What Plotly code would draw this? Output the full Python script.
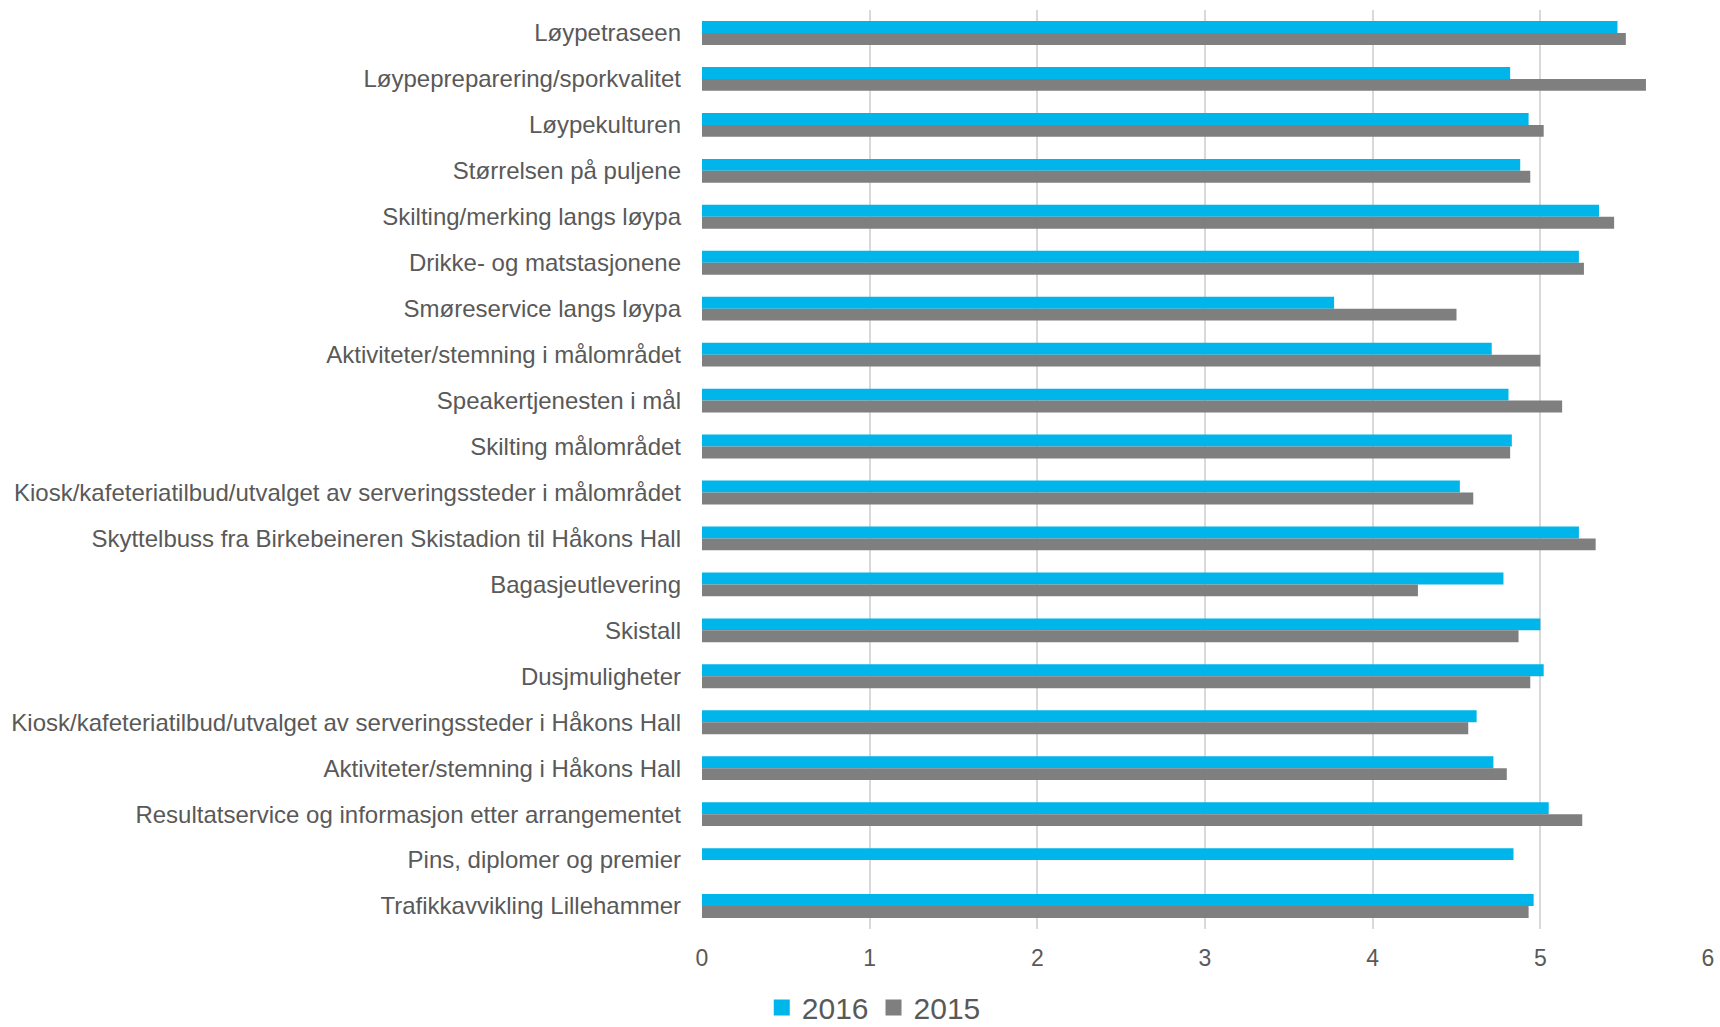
import plotly.graph_objects as go

categories = [
    "Løypetraseen",
    "Løypepreparering/sporkvalitet",
    "Løypekulturen",
    "Størrelsen på puljene",
    "Skilting/merking langs løypa",
    "Drikke- og matstasjonene",
    "Smøreservice langs løypa",
    "Aktiviteter/stemning i målområdet",
    "Speakertjenesten i mål",
    "Skilting målområdet",
    "Kiosk/kafeteriatilbud/utvalget av serveringssteder i målområdet",
    "Skyttelbuss fra Birkebeineren Skistadion til Håkons Hall",
    "Bagasjeutlevering",
    "Skistall",
    "Dusjmuligheter",
    "Kiosk/kafeteriatilbud/utvalget av serveringssteder i Håkons Hall",
    "Aktiviteter/stemning i Håkons Hall",
    "Resultatservice og informasjon etter arrangementet",
    "Pins, diplomer og premier",
    "Trafikkavvikling Lillehammer",
]

values_2016 = [5.46, 4.82, 4.93, 4.88, 5.35, 5.23, 3.77, 4.71, 4.81, 4.83,
               4.52, 5.23, 4.78, 5.00, 5.02, 4.62, 4.72, 5.05, 4.84, 4.96]
values_2015 = [5.51, 5.63, 5.02, 4.94, 5.44, 5.26, 4.50, 5.00, 5.13, 4.82,
               4.60, 5.33, 4.27, 4.87, 4.94, 4.57, 4.80, 5.25, None, 4.93]

series_names = ["2016", "2015"]
series_colors = ["#00B5E9", "#7F7F7F"]

x_ticks = [0, 1, 2, 3, 4, 5, 6]

TEXT = "#595959"
GRID = "#D9D9D9"
FONT = "Liberation Sans, Arial, sans-serif"

fig = go.Figure()
for name, vals, col in zip(series_names, [values_2016, values_2015], series_colors):
    fig.add_trace(go.Bar(
        y=categories, x=vals, name=name, orientation="h",
        marker=dict(color=col, line=dict(width=0)),
        showlegend=False, legendgroup=name,
    ))
# legend-only entries with larger square swatches
for name, col in zip(series_names, series_colors):
    fig.add_trace(go.Scatter(
        x=[None], y=[None], mode="markers", name=name, legendgroup=name,
        marker=dict(symbol="square", size=17, color=col),
        showlegend=True,
    ))

fig.update_layout(
    width=1720, height=1027,
    margin=dict(l=702, r=6, t=10, b=98, pad=0),
    paper_bgcolor="white", plot_bgcolor="white",
    barmode="group", bargap=0.48, bargroupgap=0,
    font=dict(family=FONT, color=TEXT, size=24),
    showlegend=True,
    legend=dict(
        orientation="h", xref="container", yref="container",
        x=0.508, xanchor="center", y=0.019, yanchor="middle",
        font=dict(size=30, color=TEXT), traceorder="normal",
        itemsizing="trace", itemwidth=30, bgcolor="rgba(0,0,0,0)",
    ),
    xaxis=dict(
        range=[0, 6], tickvals=x_ticks, ticktext=[str(t) for t in x_ticks],
        showgrid=True, gridcolor=GRID, gridwidth=1.5,
        zeroline=False, showline=False,
        ticks="", ticklabelstandoff=13, ticklabeloverflow="allow",
        tickfont=dict(size=23, color=TEXT),
    ),
    yaxis=dict(
        type="category", autorange="reversed",
        showgrid=False, zeroline=False, showline=False,
        ticks="", ticklabelstandoff=20,
        tickfont=dict(size=24, color=TEXT),
    ),
)

fig.write_html(
    "out.html",
    config={"displayModeBar": False},
    post_script="document.body.style.margin='0';document.body.style.overflow='hidden';",
)
